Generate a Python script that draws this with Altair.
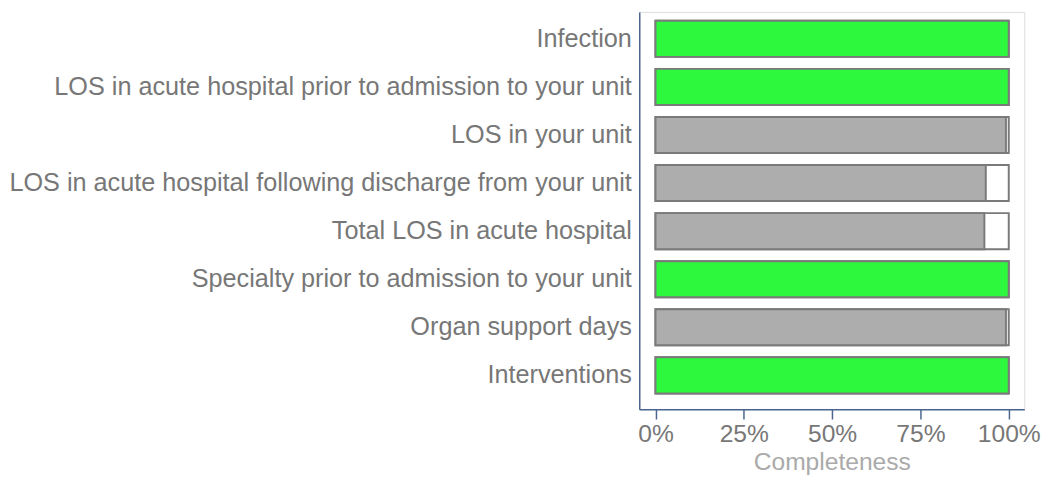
import altair as alt
import pandas as pd

categories = [
    "Infection",
    "LOS in acute hospital prior to admission to your unit",
    "LOS in your unit",
    "LOS in acute hospital following discharge from your unit",
    "Total LOS in acute hospital",
    "Specialty prior to admission to your unit",
    "Organ support days",
    "Interventions",
]
completeness = [100, 100, 99.2, 93.5, 93.1, 100, 99.2, 100]
full = [100, 100, 100, 100, 100, 100, 100, 100]
tick_values = [0, 25, 50, 75, 100]

df = pd.DataFrame({"item": categories, "value": completeness, "full": full})

GREEN = "#2ef83e"
GRAY = "#adadad"
STROKE = "#7a7a7a"
AXIS = "#4a6590"
LABEL = "#777777"
FONT = "Liberation Sans"

xscale = alt.Scale(domain=[-4.6, 104.4], nice=False, zero=False)
yscale = alt.Scale(paddingInner=0.25, paddingOuter=0.256, align=0.36)

xaxis = alt.Axis(
    values=tick_values,
    labelExpr="datum.value + '%'",
    title="Completeness",
    titleColor="#aaaaaa",
    titleFontSize=25,
    titleFontWeight="normal",
    titleFont=FONT,
    titlePadding=3,
    labelFontSize=25,
    labelFont=FONT,
    labelColor=LABEL,
    labelPadding=3,
    labelFlush=False,
    domainColor=AXIS,
    domainWidth=1.5,
    tickColor=AXIS,
    tickWidth=1.5,
    tickSize=10,
    grid=False,
)
yaxis = alt.Axis(
    title=None,
    labelFontSize=25.65,
    labelFont=FONT,
    labelColor=LABEL,
    labelPadding=8,
    labelLimit=2000,
    ticks=False,
    domainColor=AXIS,
    domainWidth=1.5,
    grid=False,
)

base = alt.Chart(df)

bg = base.mark_bar(fill="white", stroke=STROKE, strokeWidth=2).encode(
    x=alt.X("full:Q", scale=xscale, axis=xaxis),
    y=alt.Y("item:N", sort=categories, scale=yscale, axis=yaxis),
)

fg = base.mark_bar(stroke=STROKE, strokeWidth=2).encode(
    x=alt.X("value:Q", scale=xscale, axis=xaxis),
    y=alt.Y("item:N", sort=categories, scale=yscale, axis=yaxis),
    fill=alt.condition(alt.datum.value >= 100, alt.value(GREEN), alt.value(GRAY)),
)

chart = (
    alt.layer(bg, fg)
    .properties(
        width=391.6,
        height=404,
        padding={"left": 1, "top": 0, "right": 0, "bottom": 0},
    )
    .configure_view(strokeWidth=0, strokeOpacity=0)
    .configure(font=FONT)
)

chart.save("out.html", embed_options={"renderer": "svg", "actions": False})
